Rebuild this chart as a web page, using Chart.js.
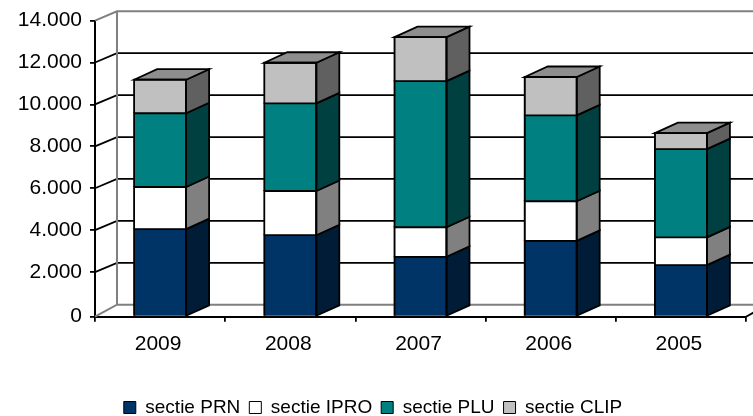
<!DOCTYPE html>
<html><head><meta charset="utf-8">
<style>html,body{margin:0;padding:0;background:#fff}canvas{display:block}</style>
<script src="https://cdn.jsdelivr.net/npm/chart.js@4"></script>
</head><body><canvas id="c" width="753" height="416"></canvas>
<script>
const categories = ['2009','2008','2007','2006','2005'];
const sectiePRN  = [4050,3760,2730,3490,2330];
const sectieIPRO = [2010,2110,1410,1890,1330];
const sectiePLU  = [3520,4180,6970,4100,4210];
const sectieCLIP = [1600,1940,2100,1830,760];
const yTicks = [0,2000,4000,6000,8000,10000,12000,14000];
const yTickLabels = ['0','2.000','4.000','6.000','8.000','10.000','12.000','14.000'];
const floorValue = -128; // the front floor edge sits a little below the zero gridline
const FONT = {family:'Arial, "Liberation Sans", sans-serif', size:21};
const LEGEND_FONT = {family:'Arial, "Liberation Sans", sans-serif', size:19};
const sideColors = ['#001c36','#808080','#004040','#606060'];
const topColor = '#8e8e8e';
const DX = 23, DY = 10.5, BACKX = 22, BACKDY = 9.3, LW = 1.8;

function poly(ctx, pts, fill, stroke, lw){
  ctx.beginPath();
  pts.forEach((p,i)=> i?ctx.lineTo(p[0],p[1]):ctx.moveTo(p[0],p[1]));
  if(fill){ctx.closePath();ctx.fillStyle=fill;ctx.fill();}
  if(stroke){ctx.strokeStyle=stroke;ctx.lineWidth=lw;ctx.lineJoin='miter';ctx.stroke();}
}
const walls = {
  id:'walls',
  beforeDatasetsDraw(chart){
    const {ctx,scales:{x,y},width} = chart;
    const L=x.left, R=width+5;
    const b=L+BACKX;
    ctx.save();
    yTicks.slice(1).forEach(v=>{
      const py=y.getPixelForValue(v), by=py-BACKDY;
      const grey = v===yTicks[yTicks.length-1];
      poly(ctx,[[L,py],[b,by],[R,by]],null,grey?'#808080':'#000',grey?2:LW);
    });
    const fy=y.getPixelForValue(floorValue), zy=y.getPixelForValue(0)-BACKDY;
    poly(ctx,[[L,fy],[b,zy],[R,zy]],null,'#808080',2);
    const ty=y.getPixelForValue(yTicks[yTicks.length-1])-BACKDY;
    poly(ctx,[[b,ty],[b,zy]],null,'#808080',2);
    poly(ctx,[[x.right,fy],[x.right+BACKX,zy]],null,'#000',LW);
    ctx.restore();
  },
  afterDatasetsDraw(chart){
    const ctx=chart.ctx;
    ctx.save();
    chart.data.datasets.forEach((ds,di)=>{
      chart.getDatasetMeta(di).data.forEach(el=>{
        const r=el.x+el.width/2, l=el.x-el.width/2, t=el.y, bt=el.base;
        poly(ctx,[[r,bt],[r+DX,bt-DY],[r+DX,t-DY],[r,t]],sideColors[di],'#000',LW);
        if(di===chart.data.datasets.length-1)
          poly(ctx,[[l,t],[l+DX,t-DY],[r+DX,t-DY],[r,t]],topColor,'#000',LW);
        poly(ctx,[[l,bt],[l,t],[r,t],[r,bt]],null,'#000',LW);
      });
    });
    ctx.restore();
  }
};
const mk=(label,data,color,extra)=>Object.assign({label,data,backgroundColor:color,borderColor:'#000',borderWidth:1,barThickness:52},extra||{});
new Chart(document.getElementById('c'),{
  type:'bar',
  data:{labels:categories,datasets:[
    mk('sectie PRN',sectiePRN,'#003366',{base:floorValue}),
    mk('sectie IPRO',sectieIPRO,'#ffffff'),
    mk('sectie PLU',sectiePLU,'#008080'),
    mk('sectie CLIP',sectieCLIP,'#c0c0c0')
  ]},
  options:{
    responsive:false,animation:false,
    layout:{padding:{left:0,right:7,top:20,bottom:-11}},
    plugins:{
      tooltip:{enabled:false},
      legend:{position:'bottom',labels:{font:LEGEND_FONT,color:'#000',boxWidth:12,boxHeight:12,padding:9}}
    },
    scales:{
      x:{stacked:true,
         grid:{drawOnChartArea:false,color:'#000',lineWidth:LW,tickLength:5,offset:true},
         border:{color:'#000',width:2},
         ticks:{font:FONT,color:'#000',padding:10,maxRotation:0,labelOffset:-2},
         afterFit(s){s.height=72.3;}},
      y:{stacked:true,min:floorValue,max:14000,
         grid:{drawOnChartArea:false,color:'#000',lineWidth:LW,tickLength:5},
         border:{color:'#000',width:2},
         ticks:{font:FONT,color:'#000',padding:8,
           callback(v){const i=yTicks.indexOf(v);return v===floorValue?yTickLabels[0]:(i>=0?yTickLabels[i]:'');}},
         afterBuildTicks(s){s.ticks=[floorValue].concat(yTicks.slice(1)).map(v=>({value:v}));},
         afterFit(s){s.width=95;}}
    }
  },
  plugins:[walls]
});
</script></body></html>
